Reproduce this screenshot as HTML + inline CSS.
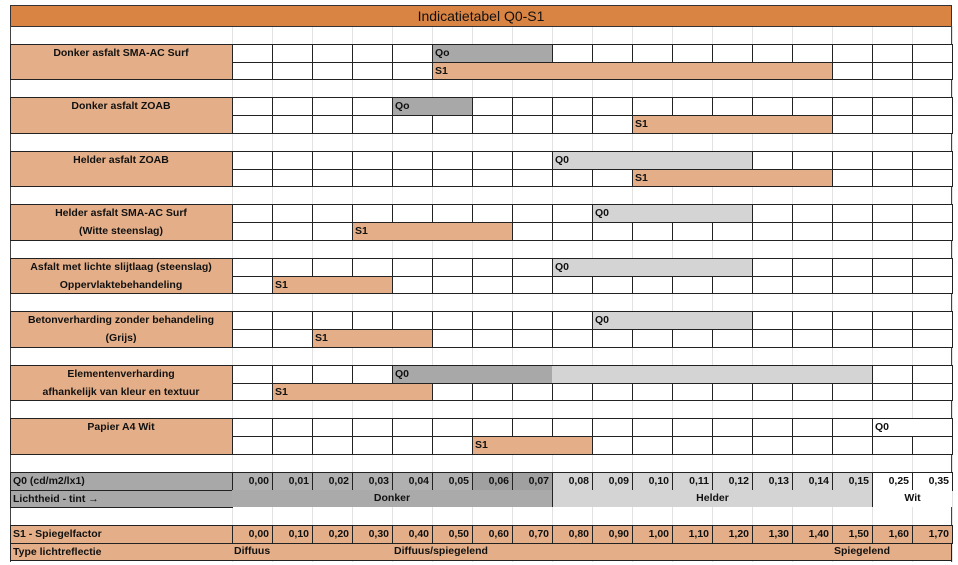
<!DOCTYPE html>
<html><head><meta charset="utf-8"><style>
body{margin:0;background:#fff;width:958px;height:565px;overflow:hidden;position:relative;font-family:"Liberation Sans",Arial,sans-serif;font-weight:bold;font-size:10.5px;color:#111}
.c{position:absolute;box-sizing:border-box;white-space:nowrap;line-height:17px;overflow:hidden}
</style></head><body>
<div id="r"></div>
<script>
var R=document.getElementById('r');
var RH=17.83, Y0=26, X0=232, CW=40;
var TAN='#e4af88', DG='#a8a8a8', LG='#d4d4d4', OR='#d98443';
function y(i){return Y0+i*RH;}
function x(c){return X0+c*CW;}
function box(l,t,w,h,bg,txt,st){var d=document.createElement('div');d.className='c';d.style.cssText='left:'+l+'px;top:'+t+'px;width:'+w+'px;height:'+h+'px;background:'+(bg||'transparent')+';'+(st||'');if(txt)d.innerHTML=txt;R.appendChild(d);return d;}
for(var c=0;c<=18;c++)box(x(c),26,1,536,'#e2e2e2');
box(10,5,942,22,OR,'Indicatietabel Q0-S1','text-align:center;font-weight:normal;font-size:14px;line-height:21px;border:1px solid #333;');
box(10,26,1,536,'#444');box(951,26,1,536,'#444');
var groups=[
 {lab:['Donker asfalt SMA-AC Surf'],q:[[5,8,DG,'Qo']],s:[5,15]},
 {lab:['Donker asfalt ZOAB'],q:[[4,6,DG,'Qo']],s:[10,15]},
 {lab:['Helder asfalt ZOAB'],q:[[8,13,LG,'Q0']],s:[10,15]},
 {lab:['Helder asfalt SMA-AC Surf','(Witte steenslag)'],q:[[9,13,LG,'Q0']],s:[3,7]},
 {lab:['Asfalt met lichte slijtlaag (steenslag)','Oppervlaktebehandeling'],q:[[8,13,LG,'Q0']],s:[1,4]},
 {lab:['Betonverharding zonder behandeling','(Grijs)'],q:[[9,13,LG,'Q0']],s:[2,5]},
 {lab:['Elementenverharding','afhankelijk van kleur en textuur'],q:[[4,8,DG,'Q0'],[8,16,LG,'']],s:[1,5]},
 {lab:['Papier A4 Wit'],q:[[16,18,'#fff','Q0']],s:[6,9]}
];
groups.forEach(function(g,n){
 var r=1+3*n, t=y(r);
 box(10,t,223,2*RH+1,TAN,'','border:1px solid #222;');
 g.lab.forEach(function(s,k){box(10,y(r+k)+1,222,RH,'',s,'text-align:center;');});
 for(var k=0;k<2;k++)for(var c=0;c<18;c++)box(x(c),y(r+k),CW+1,RH+1,'#fff','','border:1px solid #222;');
 g.q.forEach(function(q){box(x(q[0]),t,(q[1]-q[0])*CW+1,RH+1,q[2],q[3],'border:1px solid #222;'+(q[3]?'padding-left:2px;':'border-left:none;'));});
 box(x(g.s[0]),y(r+1),(g.s[1]-g.s[0])*CW+1,RH+1,TAN,'S1','border:1px solid #222;padding-left:2px;');
});
var qv=['0,00','0,01','0,02','0,03','0,04','0,05','0,06','0,07','0,08','0,09','0,10','0,11','0,12','0,13','0,14','0,15','0,25','0,35'];
var sv=['0,00','0,10','0,20','0,30','0,40','0,50','0,60','0,70','0,80','0,90','1,00','1,10','1,20','1,30','1,40','1,50','1,60','1,70'];
box(10,y(25),223,RH+1,DG,'Q0 (cd/m2/lx1)','border:1px solid #222;padding-left:2px;');
qv.forEach(function(v,c){box(x(c),y(25),CW+1,RH+1,c<8?(c>=6?'#a0a0a0':'#b0b0b0'):(c<16?LG:'#fff'),v,'border:1px solid #222;text-align:right;padding-right:3px;');});
box(10,y(26),223,RH+1,DG,'Lichtheid - tint &#8594;','border:1px solid #222;padding-left:2px;');
box(x(0),y(26),8*CW,RH,'#aaaaaa','Donker','text-align:center;');
box(x(8),y(26),8*CW,RH,LG,'Helder','text-align:center;border-left:1px solid #222;');
box(x(16),y(26),2*CW,RH,'#fff','Wit','text-align:center;border-left:1px solid #222;');
box(10,y(28),223,RH+1,TAN,'S1 - Spiegelfactor','border:1px solid #222;padding-left:2px;');
sv.forEach(function(v,c){box(x(c),y(28),CW+1,RH+1,TAN,v,'border:1px solid #222;text-align:right;padding-right:3px;');});
box(10,y(29),223,RH,TAN,'Type lichtreflectie','border:1px solid #222;padding-left:2px;');
box(x(0),y(29),720,RH,TAN,'','border:1px solid #222;border-left:none;');
box(x(0)+2,y(29),100,RH,'','Diffuus');
box(x(4)+2,y(29),200,RH,'','Diffuus/spiegelend');
box(x(15)+2,y(29),100,RH,'','Spiegelend');
</script>
</body></html>
